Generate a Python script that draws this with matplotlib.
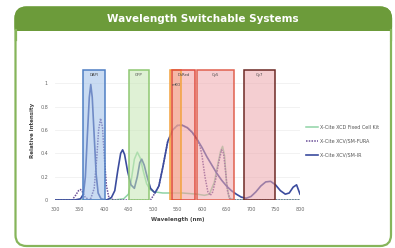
import matplotlib.pyplot as plt
from matplotlib.patches import FancyBboxPatch, Rectangle

# Spectra (wavelength nm, relative intensity)
ir_wl = [300, 340, 352, 358, 362, 366, 370, 373, 376, 380, 384, 388, 394, 405, 415, 422,
         428, 434, 438, 442, 448, 455, 462, 468, 473, 477, 482, 488, 495, 504, 512, 520,
         530, 540, 550, 560, 570, 580, 590, 600, 610, 620, 630, 640, 650, 660, 670, 680,
         690, 700, 710, 720, 730, 740, 750, 760, 770, 778, 786, 793, 800]
ir_val = [0, 0, 0.01, 0.05, 0.2, 0.55, 0.88, 0.99, 0.88, 0.55, 0.22, 0.06, 0.01, 0.0, 0.02, 0.08,
          0.25, 0.4, 0.43, 0.39, 0.25, 0.13, 0.1, 0.2, 0.32, 0.35, 0.3, 0.2, 0.1, 0.06, 0.12, 0.28,
          0.5, 0.6, 0.64, 0.64, 0.62, 0.58, 0.52, 0.45, 0.37, 0.3, 0.23, 0.17, 0.12, 0.08, 0.05, 0.025,
          0.015, 0.03, 0.07, 0.12, 0.155, 0.16, 0.13, 0.08, 0.05, 0.06, 0.11, 0.13, 0.05]

fura_wl = [300, 335, 342, 348, 352, 356, 362, 372, 380, 385, 389, 393, 397, 401, 405, 410,
           420, 495, 504, 512, 520, 530, 540, 550, 560, 570, 580, 590, 596, 600, 606, 612,
           617, 622, 628, 634, 640, 644, 648, 652, 657, 665, 800]
fura_val = [0, 0, 0.04, 0.08, 0.09, 0.07, 0.02, 0.0, 0.1, 0.35, 0.6, 0.7, 0.62, 0.35, 0.12, 0.02,
            0, 0, 0.06, 0.12, 0.28, 0.5, 0.6, 0.64, 0.64, 0.62, 0.58, 0.52, 0.46, 0.38, 0.2, 0.07,
            0.04, 0.07, 0.18, 0.32, 0.43, 0.4, 0.25, 0.08, 0.01, 0, 0]

fixed_wl = [300, 420, 440, 450, 456, 462, 468, 474, 480, 487, 494, 502, 520, 560, 590, 605,
            615, 625, 632, 638, 642, 646, 650, 655, 665, 800]
fixed_val = [0, 0, 0.01, 0.05, 0.18, 0.35, 0.41, 0.36, 0.25, 0.14, 0.09, 0.07, 0.06, 0.06, 0.05, 0.04,
             0.05, 0.15, 0.3, 0.42, 0.46, 0.38, 0.15, 0.02, 0, 0]

series_names = ['X-Cite XCD Fixed Cell Kit', 'X-Cite XCV/SM-FURA', 'X-Cite XCV/SM-IR']

# filter bands
band_names = ['DAPI', 'GFP', 'mKO', 'DsRed', 'Cy5', 'Cy7']
band_lo = [358, 450, 535, 539, 590, 686]
band_hi = [402, 492, 558, 586, 665, 749]
band_face = ['#9dbfe8', '#c6e6b3', '#f8bb78', '#f19e9e', '#f0a8ae', '#eca6ac']
band_edge = ['#4f7fc4', '#8fc873', '#f2a23c', '#df4d3f', '#e0614f', '#6e2a26']

fig = plt.figure(figsize=(3.95, 2.48), dpi=100)

# background panel
bg = fig.add_axes([0, 0, 1, 1], zorder=0)
bg.set_xlim(0, 395)
bg.set_ylim(248, 0)
bg.axis('off')
bg.add_patch(FancyBboxPatch((15.5, 7.5), 375.5, 238.5, boxstyle='round,pad=0,rounding_size=11',
                            fc='white', ec='#86b55a', lw=1.6))
bg.add_patch(FancyBboxPatch((15.5, 7.5), 375.5, 30, boxstyle='round,pad=0,rounding_size=11',
                            fc='#6c9b3a', ec='#6c9b3a', lw=1.6))
bg.add_patch(Rectangle((16.3, 31), 374, 10, fc='white', ec='none'))
bg.plot([15.5, 15.5], [30, 40], color='#86b55a', lw=1.6)
bg.plot([391, 391], [30, 40], color='#86b55a', lw=1.6)
bg.text(203, 19.5, 'Wavelength Switchable Systems', color='white', fontsize=7.5,
        fontweight='bold', ha='center', va='center')

ax = fig.add_axes([55 / 395, 48 / 248, 245 / 395, 140 / 248], zorder=1)
ax.patch.set_alpha(0)

ax.plot(fixed_wl, fixed_val, color='#8fd3a6', lw=1.1, label=series_names[0], zorder=2)
ax.plot(fura_wl, fura_val, color='#6b4f98', lw=1.1, ls=(0, (1, 0.8)), label=series_names[1], zorder=2)
ax.plot(ir_wl, ir_val, color='#3b4c9e', lw=1.2, label=series_names[2], zorder=2.5)

for name, lo, hi, fc, ec in zip(band_names, band_lo, band_hi, band_face, band_edge):
    ax.add_patch(Rectangle((lo, 0), hi - lo, 1.11, fc=fc, ec='none', alpha=0.55, zorder=3))
    ax.add_patch(Rectangle((lo, 0), hi - lo, 1.11, fc='none', ec=ec, lw=1.1, zorder=3.5))
    if name == 'mKO':
        ax.text(lo + 3, 0.99, name, fontsize=2.8, color='#444444', ha='left', va='center', zorder=4)
    else:
        ax.text((lo + hi) / 2, 1.07, name, fontsize=2.8, color='#444444', ha='center', va='center', zorder=4)

ax.set_xlim(300, 800)
ax.set_ylim(0, 1.2)
ax.set_xticks(range(300, 801, 50))
ax.set_yticks([0, 0.2, 0.4, 0.6, 0.8, 1])
ax.set_yticklabels(['0', '0.2', '0.4', '0.6', '0.8', '1'])
ax.tick_params(length=0, labelsize=3.5, labelcolor='#666666', pad=5)
ax.grid(axis='y', color='#f0f0f0', lw=0.6)
ax.set_axisbelow(True)
for s in ax.spines.values():
    s.set_visible(False)

ax.set_xlabel('Wavelength (nm)', fontsize=4, color='#444444', fontweight='bold')
ax.set_ylabel('Relative Intensity', fontsize=4, color='#444444', fontweight='bold')
ax.xaxis.set_label_coords(0.5, -0.12)
ax.yaxis.set_label_coords(-0.08, 0.5)

ax.legend(loc='center left', bbox_to_anchor=(1.025, 0.42), frameon=False, fontsize=3.5,
          handlelength=2.5, handletextpad=0.4, labelspacing=1.8, borderpad=0, borderaxespad=0,
          labelcolor='#555555')

fig.savefig('out.png', dpi=100)
